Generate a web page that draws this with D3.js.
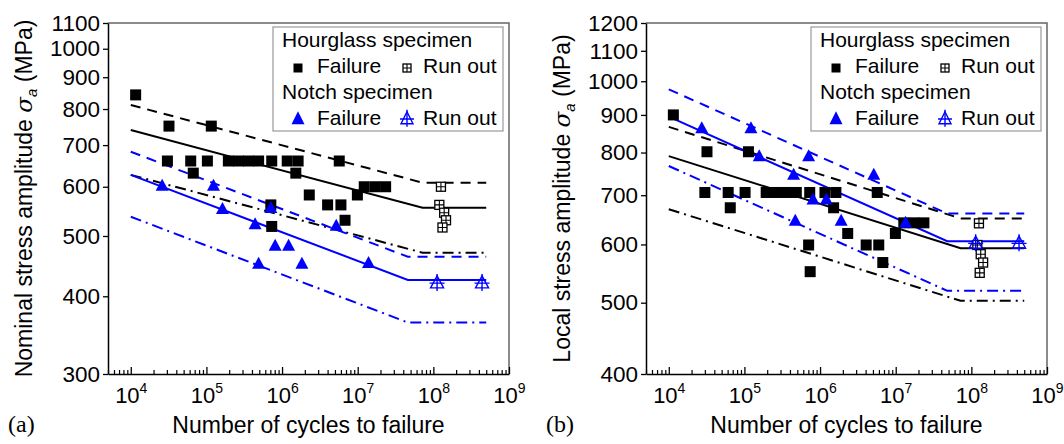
<!DOCTYPE html>
<html>
<head>
<meta charset="utf-8">
<script src="https://cdn.jsdelivr.net/npm/d3@7/dist/d3.min.js"></script>
<style>
  body { margin: 0; background: #fff; }
  text { font-family: "Liberation Sans", Arial, sans-serif; fill: #000; }
</style>
</head>
<body>
<svg id="chart" width="1064" height="444"></svg>
<script>
// ---- data: [cycles to failure, stress amplitude MPa] ----
var xTicks = [1e4, 1e5, 1e6, 1e7, 1e8, 1e9];
var yTicksA = [300, 400, 500, 600, 700, 800, 900, 1000, 1100];
var yTicksB = [400, 500, 600, 700, 800, 900, 1000, 1100, 1200];

// panel (a) nominal stress
var hgFailA = [[1.16e4,843],[3.2e4,751],[1.16e5,751],[3.05e4,660],[6.2e4,660],[1.03e5,660],[6.7e4,631],
  [1.95e5,660],[2.65e5,660],[3.6e5,660],[4.9e5,660],[7.3e5,660],[1.17e6,660],[1.63e6,660],
  [1.52e6,631],[2.29e6,582],[7.1e5,561],[7.3e5,518],[5.7e6,660],[4.0e6,561],[6.0e6,561],
  [6.8e6,530],[9.9e6,582],[1.22e7,600],[1.7e7,600],[2.34e7,600]];
var hgRunA = [[1.26e8,600],[1.2e8,561],[1.39e8,545],[1.47e8,530],[1.32e8,516]];
var nFailA = [[2.6e4,602],[1.24e5,602],[1.63e5,552],[4.4e5,522],[7.1e5,554],[8.1e5,482],[1.22e6,482],
  [4.9e5,451],[1.83e6,451],[5.2e6,519],[1.39e7,452]];
var nRunA = [[1.12e8,420],[4.4e8,420]];
var hgMeanA = [[1e4,740],[7.2e7,555],[5e8,555]];
var hgUpperA = [[1e4,812],[7.2e7,609],[5e8,609]];
var hgLowerA = [[1e4,627],[7.2e7,470],[5e8,470]];
var nMeanA = [[1e4,627],[4.6e7,425],[5e8,425]];
var nUpperA = [[1e4,683],[4.6e7,463],[5e8,463]];
var nLowerA = [[1e4,537],[4.6e7,363],[5e8,363]];

// panel (b) local stress
var hgFailB = [[1.15e4,900],[3.2e4,802],[1.13e5,802],[3.0e4,706],[6.1e4,706],[1.02e5,706],[6.5e4,673],
  [1.94e5,706],[2.63e5,706],[3.57e5,706],[4.85e5,706],[7.3e5,706],[1.16e6,706],[1.62e6,706],
  [1.51e6,673],[2.32e6,621],[7.06e5,599],[7.4e5,551],[5.7e6,706],[4.07e6,599],[5.97e6,599],
  [6.75e6,567],[9.9e6,621],[1.28e7,642],[1.74e7,642],[2.36e7,642]];
var hgRunB = [[1.26e8,641],[1.2e8,599],[1.33e8,582],[1.43e8,567],[1.29e8,549]];
var nFailB = [[2.73e4,863],[1.22e5,863],[1.57e5,790],[7.06e5,790],[4.47e5,746],[8.07e5,690],[1.21e6,690],
  [4.7e5,646],[1.9e6,646],[5.13e6,746],[1.35e7,642]];
var nRunB = [[1.14e8,602],[4.27e8,602]];
var hgMeanB = [[1e4,791],[7.2e7,593],[5e8,593]];
var hgUpperB = [[1e4,867],[7.2e7,651],[5e8,651]];
var hgLowerB = [[1e4,670],[7.2e7,503],[5e8,503]];
var nMeanB = [[1e4,895],[4.8e7,606],[5e8,606]];
var nUpperB = [[1e4,975],[4.8e7,661],[5e8,661]];
var nLowerB = [[1e4,767],[4.8e7,519],[5e8,519]];

var svg = d3.select("#chart");
var W = 401, H = 351, top0 = 23;
var BLUE = "#0000ff";
var dashes = { solid: null, dash: "10,7", dashdot: "11,5,2,5" };

var panels = [
  { x0: 108, yDom: [300, 1100], yTicks: yTicksA, yTitle: "Nominal stress amplitude ", tag: "(a)", tagX: 8,
    hgFail: hgFailA, hgRun: hgRunA, nFail: nFailA, nRun: nRunA,
    lines: [[hgUpperA,"#000","dash"],[hgMeanA,"#000","solid"],[hgLowerA,"#000","dashdot"],
            [nUpperA,BLUE,"dash"],[nMeanA,BLUE,"solid"],[nLowerA,BLUE,"dashdot"]] },
  { x0: 646, yDom: [400, 1200], yTicks: yTicksB, yTitle: "Local stress amplitude ", tag: "(b)", tagX: 546,
    hgFail: hgFailB, hgRun: hgRunB, nFail: nFailB, nRun: nRunB,
    lines: [[hgUpperB,"#000","dash"],[hgMeanB,"#000","solid"],[hgLowerB,"#000","dashdot"],
            [nUpperB,BLUE,"dash"],[nMeanB,BLUE,"solid"],[nLowerB,BLUE,"dashdot"]] }
];

function square(g, cx, cy, s) {
  g.append("rect").attr("x", cx - s/2).attr("y", cy - s/2).attr("width", s).attr("height", s).attr("fill", "#000");
}
function runSquare(g, cx, cy, s) {
  g.append("rect").attr("x", cx - s/2).attr("y", cy - s/2).attr("width", s).attr("height", s)
    .attr("fill", "#fff").attr("stroke", "#000").attr("stroke-width", 1.3);
  g.append("path").attr("d", "M" + cx + "," + (cy - s/2) + "V" + (cy + s/2) + "M" + (cx - s/2) + "," + cy + "H" + (cx + s/2))
    .attr("stroke", "#000").attr("stroke-width", 1.1);
}
function triangle(g, cx, cy, w, h) {
  g.append("path").attr("d", "M" + cx + "," + (cy - h*0.6) + "L" + (cx + w/2) + "," + (cy + h*0.4) + "L" + (cx - w/2) + "," + (cy + h*0.4) + "Z")
    .attr("fill", BLUE);
}
function runTriangle(g, cx, cy, w, h) {
  g.append("path").attr("d", "M" + cx + "," + (cy - h*0.6) + "L" + (cx + w/2) + "," + (cy + h*0.4) + "L" + (cx - w/2) + "," + (cy + h*0.4) + "Z")
    .attr("fill", "none").attr("stroke", BLUE).attr("stroke-width", 1.4);
  g.append("path").attr("d", "M" + cx + "," + (cy - h*0.6 - 2) + "V" + (cy + h*0.4 + 3) + "M" + (cx - w/2 - 1) + "," + cy + "H" + (cx + w/2 + 1))
    .attr("stroke", BLUE).attr("stroke-width", 1.4);
}

panels.forEach(function(p) {
  var x = d3.scaleLog().domain([5000, 1e9]).range([p.x0, p.x0 + W]);
  var y = d3.scaleLog().domain(p.yDom).range([top0 + H, top0]);
  var g = svg.append("g");

  // frame top + right
  g.append("path").attr("d", "M" + p.x0 + "," + top0 + "H" + (p.x0 + W) + "V" + (top0 + H))
    .attr("fill", "none").attr("stroke", "#666").attr("stroke-width", 1.5);

  // minor x ticks (inside)
  var minor = [];
  for (var e = 3; e < 9; e++) for (var k = 2; k <= 9; k++) {
    var v = k * Math.pow(10, e);
    if (v >= 5000 && v <= 1e9) minor.push(v);
  }
  g.append("g").attr("transform", "translate(0," + (top0 + H) + ")")
    .call(d3.axisBottom(x).tickValues(minor).tickSizeInner(-4).tickSizeOuter(0).tickFormat(""))
    .call(function(s) { s.select(".domain").remove(); s.selectAll("line").attr("stroke-width", 1.2); });

  // major x ticks + labels
  var xa = g.append("g").attr("transform", "translate(0," + (top0 + H) + ")")
    .call(d3.axisBottom(x).tickValues(xTicks).tickSizeInner(-7).tickSizeOuter(0).tickPadding(0).tickFormat(""));
  xa.select(".domain").attr("stroke-width", 1.5);
  xa.selectAll("line").attr("stroke-width", 1.3);
  xa.selectAll(".tick text").attr("y", 29).attr("dy", null).attr("font-size", 22).attr("text-anchor", "middle")
    .each(function(d) {
      var t = d3.select(this);
      t.text("10");
      t.append("tspan").attr("dy", -10).attr("font-size", 14).text(Math.round(Math.log10(d)));
    });

  // y axis
  var ya = g.append("g").attr("transform", "translate(" + p.x0 + ",0)")
    .call(d3.axisLeft(y).tickValues(p.yTicks).tickSizeInner(5).tickSizeOuter(0).tickPadding(3).tickFormat(d3.format("d")));
  ya.select(".domain").attr("stroke-width", 1.5);
  ya.selectAll("line").attr("stroke-width", 1.3);
  ya.selectAll(".tick text").attr("font-size", 22.5);

  // axis titles
  g.append("text").attr("x", p.x0 + W/2).attr("y", 433).attr("text-anchor", "middle").attr("font-size", 23)
    .text("Number of cycles to failure");
  var yt = g.append("text").attr("transform", "translate(" + (p.x0 - 76) + "," + (top0 + H/2) + ") rotate(-90)")
    .attr("text-anchor", "middle").attr("font-size", 23);
  yt.append("tspan").text(p.yTitle);
  yt.append("tspan").attr("font-style", "italic").attr("font-family", "DejaVu Serif, serif").text("σ");
  yt.append("tspan").attr("font-style", "italic").attr("font-size", 15).attr("dy", 5).text("a");
  yt.append("tspan").attr("dy", -5).text(" (MPa)");
  g.append("text").attr("x", p.tagX).attr("y", 432).attr("font-size", 24)
    .style("font-family", "'Liberation Serif', 'Times New Roman', serif").text(p.tag);

  // fit lines
  var line = d3.line().x(function(d) { return x(d[0]); }).y(function(d) { return y(d[1]); });
  p.lines.forEach(function(l) {
    g.append("path").datum(l[0]).attr("d", line).attr("fill", "none").attr("stroke", l[1])
      .attr("stroke-width", 2).attr("stroke-dasharray", dashes[l[2]]);
  });

  // markers
  var m = g.append("g");
  p.hgFail.forEach(function(d) { square(m, x(d[0]), y(d[1]), 11); });
  p.hgRun.forEach(function(d) { runSquare(m, x(d[0]), y(d[1]), 9); });
  p.nFail.forEach(function(d) { triangle(m, x(d[0]), y(d[1]), 13, 12); });
  p.nRun.forEach(function(d) { runTriangle(m, x(d[0]), y(d[1]), 13, 12); });

  // legend
  var lx = p.x0 + W - 236, ly = top0 + 4;
  var lg = g.append("g");
  lg.append("rect").attr("x", lx).attr("y", ly).attr("width", 230).attr("height", 104)
    .attr("fill", "#fff").attr("stroke", "#999").attr("stroke-width", 1.2);
  lg.append("text").attr("x", lx + 9).attr("y", ly + 20).attr("font-size", 21).text("Hourglass specimen");
  square(lg, lx + 25, ly + 41, 9);
  lg.append("text").attr("x", lx + 44).attr("y", ly + 46).attr("font-size", 21).text("Failure");
  runSquare(lg, lx + 134, ly + 41, 8);
  lg.append("text").attr("x", lx + 150).attr("y", ly + 46).attr("font-size", 21).text("Run out");
  lg.append("text").attr("x", lx + 9).attr("y", ly + 72).attr("font-size", 21).text("Notch specimen");
  triangle(lg, lx + 25, ly + 92, 13, 13);
  lg.append("text").attr("x", lx + 44).attr("y", ly + 98).attr("font-size", 21).text("Failure");
  runTriangle(lg, lx + 134, ly + 92, 12, 12);
  lg.append("text").attr("x", lx + 150).attr("y", ly + 98).attr("font-size", 21).text("Run out");
});
</script>
</body>
</html>
